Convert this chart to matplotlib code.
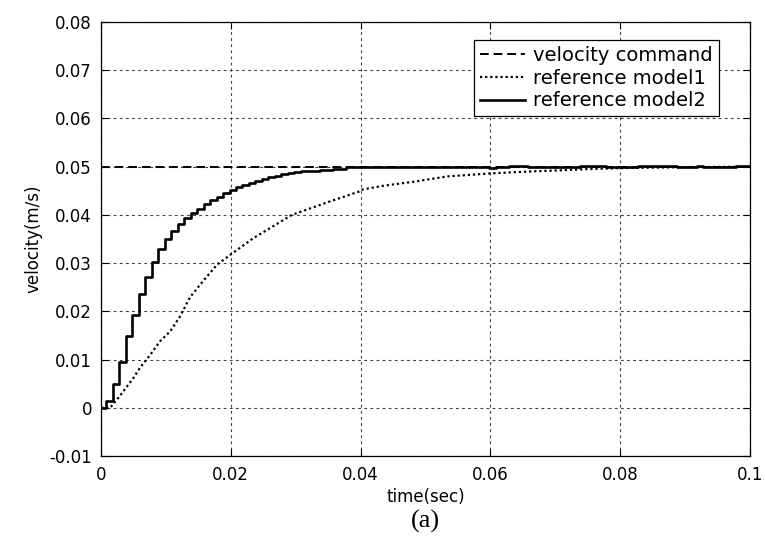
import numpy as np
import matplotlib
matplotlib.use('agg')
import matplotlib.pyplot as plt
import matplotlib.ticker as mticker

# velocity command (step input)
cmd_t = [0.0, 0.1]
cmd_v = [0.05, 0.05]

# reference model1 (dotted)
t1 = [0.0, 0.0014, 0.0027, 0.005, 0.006, 0.0076, 0.0091, 0.0107, 0.0122, 0.0137,
      0.0158, 0.0179, 0.020, 0.0235, 0.0261, 0.0294, 0.0353, 0.0399, 0.0401, 0.0433,
      0.0483, 0.0535, 0.060, 0.066, 0.070, 0.075, 0.080, 0.090, 0.100]
v1 = [0.0, 0.0, 0.0021, 0.0062, 0.0083, 0.0110, 0.0138, 0.0159, 0.0190, 0.0229,
      0.0264, 0.0297, 0.0318, 0.0352, 0.0373, 0.0400, 0.0428, 0.0449, 0.0452, 0.0460,
      0.0469, 0.0480, 0.0486, 0.0490, 0.0492, 0.0495, 0.0497, 0.0499, 0.0500]

# reference model2 (solid), one value per 1 ms sample (staircase)
v2 = [0.0, 0.0014, 0.0050, 0.0095, 0.0148, 0.0193, 0.0235, 0.0272, 0.0302, 0.0329,
      0.0351, 0.0367, 0.0381, 0.0393, 0.0404, 0.0413, 0.0422, 0.0430, 0.0438, 0.0445,
      0.0451, 0.0457, 0.0462, 0.0467, 0.0471, 0.0475, 0.0478, 0.0481, 0.0484, 0.0486,
      0.0488, 0.0490, 0.0491, 0.0492, 0.0493, 0.0494, 0.0495, 0.0496, 0.0499, 0.0499,
      0.0499, 0.0499, 0.0499, 0.0499, 0.0499, 0.0499, 0.0499, 0.0499, 0.0499, 0.0499,
      0.0499, 0.0499, 0.0499, 0.0499, 0.0499, 0.0499, 0.0499, 0.0499, 0.0499, 0.0499,
      0.0498, 0.0500, 0.0500, 0.0502, 0.0502, 0.0502, 0.0500, 0.0500, 0.0500, 0.0500,
      0.0500, 0.0500, 0.0500, 0.0500, 0.0502, 0.0502, 0.0502, 0.0502, 0.0500, 0.0500,
      0.0500, 0.0500, 0.0500, 0.0502, 0.0502, 0.0502, 0.0502, 0.0502, 0.0502, 0.0500,
      0.0500, 0.0500, 0.0502, 0.0500, 0.0500, 0.0500, 0.0500, 0.0500, 0.0502, 0.0502,
      0.0502]
sample_dt = 0.001
sample_lag = 0.0002

xticks = [0, 0.02, 0.04, 0.06, 0.08, 0.1]
xticklabels = ['0', '0.02', '0.04', '0.06', '0.08', '0.1']
yticks = [-0.01, 0, 0.01, 0.02, 0.03, 0.04, 0.05, 0.06, 0.07, 0.08]
yticklabels = ['-0.01', '0', '0.01', '0.02', '0.03', '0.04', '0.05', '0.06', '0.07', '0.08']

plt.rcParams['font.family'] = ['DejaVu Sans']

fig = plt.figure(figsize=(7.65, 5.39), dpi=100)
ax = fig.add_axes([101 / 765., 1 - 456 / 539., 649 / 765., 434 / 539.])

t2 = np.clip(np.arange(len(v2)) * sample_dt - sample_lag, 0, None)
t2 = np.append(t2, 0.1)
v2s = np.append(v2, v2[-1])

ax.plot(cmd_t, cmd_v, color='black', lw=1.4, linestyle=(0, (4.5, 2.5)), label='velocity command', zorder=3)
ax.plot(t1, v1, color='black', lw=1.6, linestyle=(0, (1, 1.3)), label='reference model1', zorder=4)
ax.plot(t2, v2s, color='black', lw=1.9, drawstyle='steps-post', label='reference model2', zorder=5)

ax.set_xlim(0, 0.1)
ax.set_ylim(-0.01, 0.08)
ax.xaxis.set_major_locator(mticker.FixedLocator(xticks))
ax.xaxis.set_major_formatter(mticker.FixedFormatter(xticklabels))
ax.yaxis.set_major_locator(mticker.FixedLocator(yticks))
ax.yaxis.set_major_formatter(mticker.FixedFormatter(yticklabels))
ax.tick_params(direction='in', top=True, right=True, length=5, width=0.8, labelsize=12)
ax.tick_params(axis='x', pad=7)
ax.tick_params(axis='y', pad=6.5)

ax.grid(True, color='0.25', lw=0.8, linestyle=(0, (2.5, 3)))
for sp in ax.spines.values():
    sp.set_linewidth(0.9)
    sp.set_color('black')

ax.set_xlabel('time(sec)', fontsize=12, labelpad=3)
ax.set_ylabel('velocity(m/s)', fontsize=12, labelpad=5)

leg = ax.legend(loc='upper right', bbox_to_anchor=(0.952, 0.959), borderaxespad=0,
                fontsize=14, fancybox=False, framealpha=1, edgecolor='black',
                handlelength=2.3, handletextpad=0.45, labelspacing=0.2,
                borderpad=0.3)
leg.get_frame().set_linewidth(0.9)

fig.text(425 / 765., 1 - 521 / 539., '(a)', ha='center', va='center',
         fontsize=19, family='Liberation Serif')

fig.savefig('out.png', dpi=100)
